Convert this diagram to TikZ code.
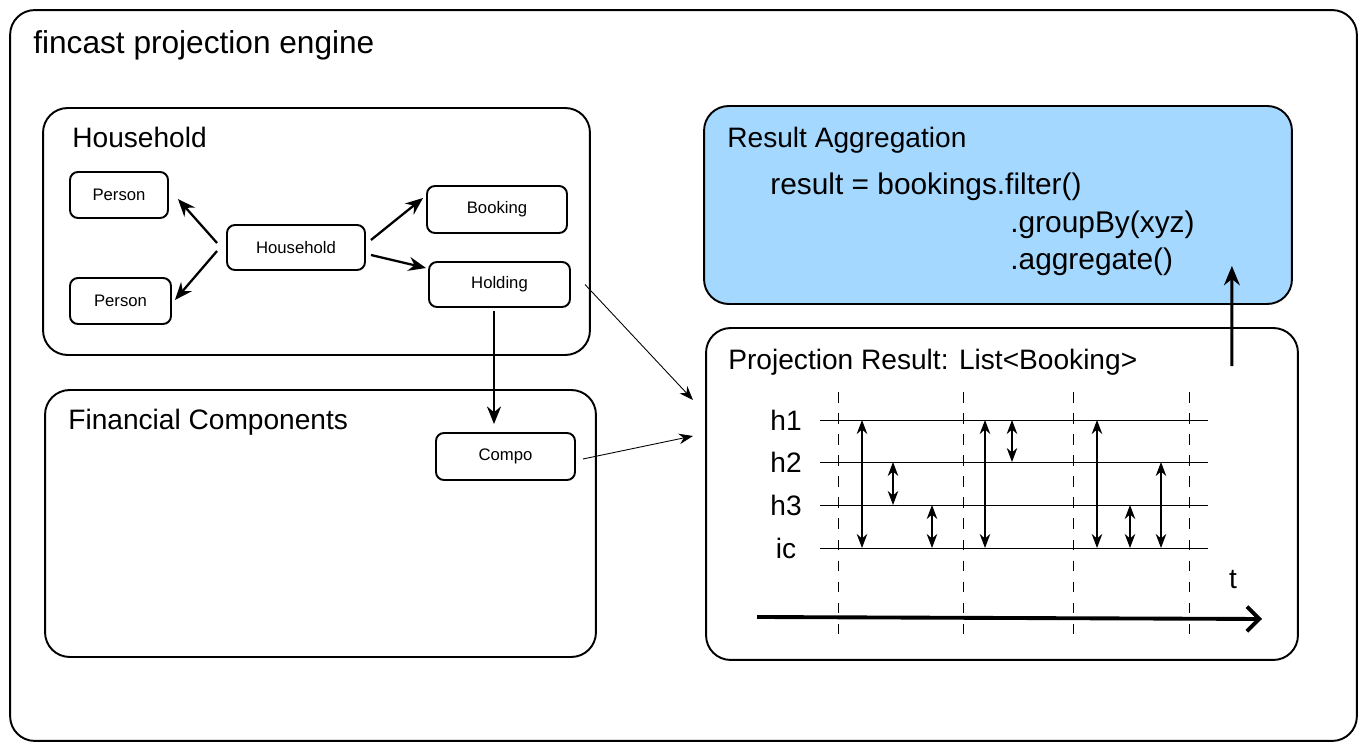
\documentclass[tikz,border=0pt]{standalone}
\usepackage{fontspec}
\usepackage{xcolor}
\setmainfont{Liberation Sans}
\usetikzlibrary{positioning, arrows.meta}

\definecolor{aggblue}{HTML}{A5D8FF}

\newcommand{\bigtxt}{\fontsize{16}{19}\selectfont}
\newcommand{\smalltxt}{\fontsize{9.5}{11}\selectfont}

\begin{document}
\begin{tikzpicture}[x=0.02cm, y=-0.02cm,
        frame/.style={draw, line width=1.1pt, rounded corners=14pt, inner sep=0pt},
        item/.style={draw, line width=1.1pt, rounded corners=4.5pt, inner sep=0pt, font=\smalltxt},
        title/.style={anchor=west, inner sep=0pt, font=\bigtxt},
        conn/.style={-{Stealth[length=10pt, width=8pt]}, line width=1.3pt},
        thin conn/.style={-{Stealth[length=8pt, width=6pt]}, line width=0.5pt},
        level/.style={line width=0.5pt},
        tick/.style={dash pattern=on 6pt off 6pt, line width=0.5pt},
        span/.style={{Stealth[length=8pt, width=6pt]}-{Stealth[length=8pt, width=6pt]}, line width=0.6pt}]

        \useasboundingbox (0,0) rectangle (1367,749);

        % outer frame
        \node[frame, minimum width=26.94cm, minimum height=14.62cm] (engine) at (683.5,375.5) {};
        \node[title, font=\fontsize{18}{21}\selectfont] (enginetitle) at (33,45) {fincast projection engine};

        % household
        \node[frame, minimum width=10.94cm, minimum height=4.94cm] (hhbox) at (316.5,231.5) {};
        \node[title] (hhtitle) at (72,137) {Household};

        \node[item, minimum width=1.96cm, minimum height=0.92cm] (p1) at (119,195) {Person};
        \node[item, minimum width=2.02cm, minimum height=0.92cm] (p2) at (120.5,301) {Person};
        \node[item, minimum width=2.76cm, minimum height=0.90cm] (hh) at (296,247.5) {Household};
        \node[item, minimum width=2.80cm, minimum height=0.94cm] (bk) at (497,209.5) {Booking};
        \node[item, minimum width=2.82cm, minimum height=0.90cm] (hd) at (499.5,284.5) {Holding};

        \draw[conn] ([shift={(-9,-4.5)}]hh.west) -- ([shift={(9,4)}]p1.east);
        \draw[conn] ([shift={(-9,3.5)}]hh.west) -- ([shift={(3,-1)}]p2.east);
        \draw[conn] ([shift={(5,-7.5)}]hh.east) -- ([shift={(-3,-11.5)}]bk.west);
        \draw[conn] ([shift={(5,7.5)}]hh.east) -- ([shift={(-2,-16.5)}]hd.west);

        % financial components
        \node[frame, minimum width=11.02cm, minimum height=5.34cm] (fcbox) at (320.5,523.5) {};
        \node[title] (fctitle) at (68,422) {Financial Components};
        \node[item, minimum width=2.78cm, minimum height=0.94cm] (cp) at (505.5,456.5) {Compo};

        \draw[conn] ([shift={(-5.5,3)}]hd.south) -- ([shift={(-11.5,-8)}]cp.north);

        % result aggregation
        \node[frame, fill=aggblue, minimum width=11.76cm, minimum height=3.96cm] (aggbox) at (998,205) {};
        \node[title] (aggtitle) at (727,140) {Result Aggregation};
        \node[title, font=\fontsize{17}{20}\selectfont] (code1) at (770,187) {result = bookings.filter()};
        \node[title, font=\fontsize{17}{20}\selectfont] (code2) at (1010,225) {.groupBy(xyz)};
        \node[title, font=\fontsize{17}{20}\selectfont] (code3) at (1010,262) {.aggregate()};

        % projection result
        \node[frame, minimum width=11.84cm, minimum height=6.64cm] (projbox) at (1002,494) {};
        \node[title] (projtitle) at (728,362) {Projection Result: List<Booking>};

        \coordinate (in1) at (693,400);
        \coordinate (in2) at (693,436);
        \draw[thin conn] ([xshift=8]hd.east) -- (in1);
        \draw[thin conn] ([shift={(7,2.5)}]cp.east) -- (in2);

        \draw[-{Stealth[length=11pt, width=9pt]}, line width=1.8pt] ([shift={(-67,39)}]projbox.north east) -- ([shift={(-61,-39)}]aggbox.south east);

        % horizons
        \foreach \name/\y in {h1/420, h2/462, h3/505, ic/548} {
            \draw[level] (820,\y) -- (1208,\y);
            \node[font=\bigtxt, inner sep=0pt] (lbl\name) at (786,\y) {\name};
        }
        \foreach \x in {838, 963, 1073, 1189}
            \draw[tick] (\x,392) -- (\x,640);
        \foreach \x/\a/\b in {862/420/548, 893/462/505, 932/505/548, 985/420/548,
                1012/420/462, 1097/420/548, 1130/505/548, 1161/462/548}
            \draw[span] (\x,\a) -- (\x,\b);

        \node[font=\bigtxt, inner sep=0pt] (tlabel) at (1233,580) {t};
        \draw[-{Straight Barb[length=7pt, width=14pt]}, line width=2.2pt] (757,617) -- (1262,619);
\end{tikzpicture}
\end{document}
